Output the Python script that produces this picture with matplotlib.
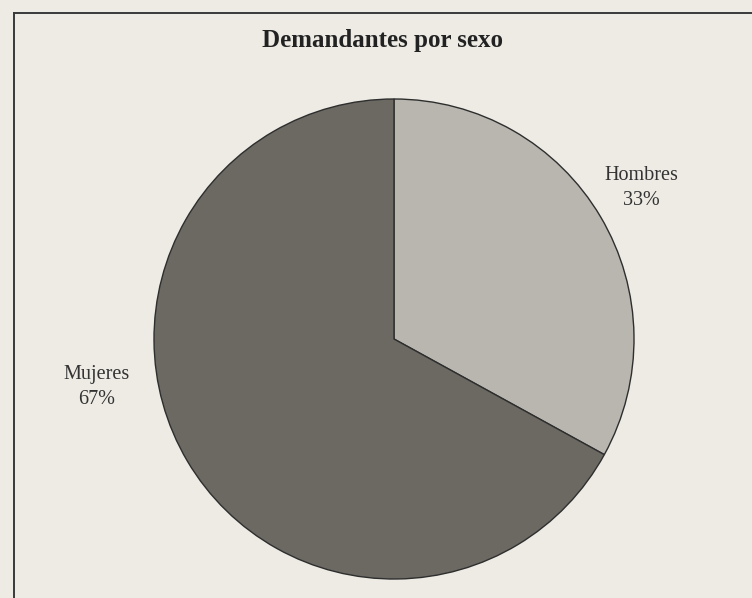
import matplotlib
matplotlib.use("Agg")
import matplotlib.pyplot as plt
import numpy as np
from matplotlib.lines import Line2D

labels = ["Hombres", "Mujeres"]
shares = [33, 67]
colors = ["#b8b6af", "#6c6963"]

W, H = 752, 598
fig = plt.figure(figsize=(W / 100, H / 100), dpi=100)
fig.patch.set_facecolor("#edebe4")

# frame (cut off at the right and bottom in the scan)
fig.add_artist(Line2D([14 / W, 14 / W], [0, 1 - 13 / H], color="#3a3a3a", lw=1.4))
fig.add_artist(Line2D([14 / W, 1], [1 - 13 / H, 1 - 13 / H], color="#3a3a3a", lw=1.4))

R = 240
cx, cy = 394, 339
ax = fig.add_axes([(cx - R) / W, (H - cy - R) / H, 2 * R / W, 2 * R / H])
ax.pie(shares, colors=colors, startangle=90, counterclock=False,
       wedgeprops=dict(edgecolor="#2e2e2e", linewidth=1.0))
ax.set_xlim(-1, 1)
ax.set_ylim(-1, 1)
ax.set_aspect("equal")
ax.axis("off")

serif = ["Liberation Serif", "DejaVu Serif"]
label_pos = {"Hombres": (1.03, 0.63), "Mujeres": (-1.24, -0.20)}
for lab, val in zip(labels, shares):
    x, y = label_pos[lab]
    ax.text(x, y, f"{lab}\n{val}%", ha="center", va="center", fontsize=14.5,
            family=serif, color="#333333", linespacing=1.45, clip_on=False)

fig.text(382 / W, 1 - 41 / H, "Demandantes por sexo", ha="center", va="center",
         fontsize=18, fontweight="bold", family=serif, color="#222222")

fig.savefig("out.png", dpi=100, facecolor=fig.get_facecolor())
